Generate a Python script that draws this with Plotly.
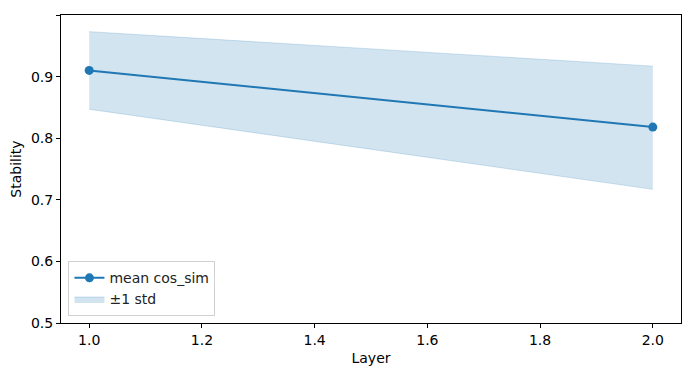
import plotly.graph_objects as go

# ── Data ────────────────────────────────────────────────────────────────────
layers    = [1.0, 2.0]
mean_cos  = [0.910, 0.818]
std_upper = [0.973, 0.917]
std_lower = [0.847, 0.717]

C0   = '#1f77b4'
BAND = 'rgba(31,119,180,0.2)'
FONT = 'DejaVu Sans, sans-serif'

fig = go.Figure()
fig.add_trace(go.Scatter(
    x=layers, y=std_lower, mode='lines',
    line=dict(color=BAND, width=1), showlegend=False, hoverinfo='skip'
))
fig.add_trace(go.Scatter(
    x=layers, y=std_upper, mode='lines', fill='tonexty', fillcolor=BAND,
    line=dict(color=BAND, width=1), name='±1 std', legendrank=2
))
fig.add_trace(go.Scatter(
    x=layers, y=mean_cos, mode='lines+markers', name='mean cos_sim',
    line=dict(color=C0, width=2), marker=dict(size=9, color=C0),
    legendrank=1
))

axis_common = dict(
    showline=True, linecolor='black', linewidth=1, mirror=True,
    ticks='outside', ticklen=4, tickcolor='black', tickwidth=1,
    showgrid=False, zeroline=False, automargin=False,
    tickfont=dict(size=14, color='black', family=FONT),
    title_font=dict(size=14, color='black', family=FONT),
)

fig.update_xaxes(range=[0.95, 2.05], tickvals=[1.0, 1.2, 1.4, 1.6, 1.8, 2.0],
                 tickformat='.1f', title_text='Layer', title_standoff=6, **axis_common)
fig.update_yaxes(range=[0.5, 1.0], dtick=0.1, tickformat='.1f',
                 title_text='Stability', title_standoff=8, **axis_common)

# page body adds ~8px offset, so margins compensate
fig.update_layout(
    width=691, height=376,
    margin=dict(l=53, r=18, t=7, b=61),
    paper_bgcolor='white', plot_bgcolor='white',
    font=dict(family=FONT, color='black', size=14),
    legend=dict(x=0.012, y=0.022, xanchor='left', yanchor='bottom',
                traceorder='normal', tracegroupgap=2,
                bgcolor='rgba(255,255,255,0.8)', bordercolor='#d0d0d0', borderwidth=1,
                font=dict(size=14, color='#222')),
)

fig.write_html('out.html')
